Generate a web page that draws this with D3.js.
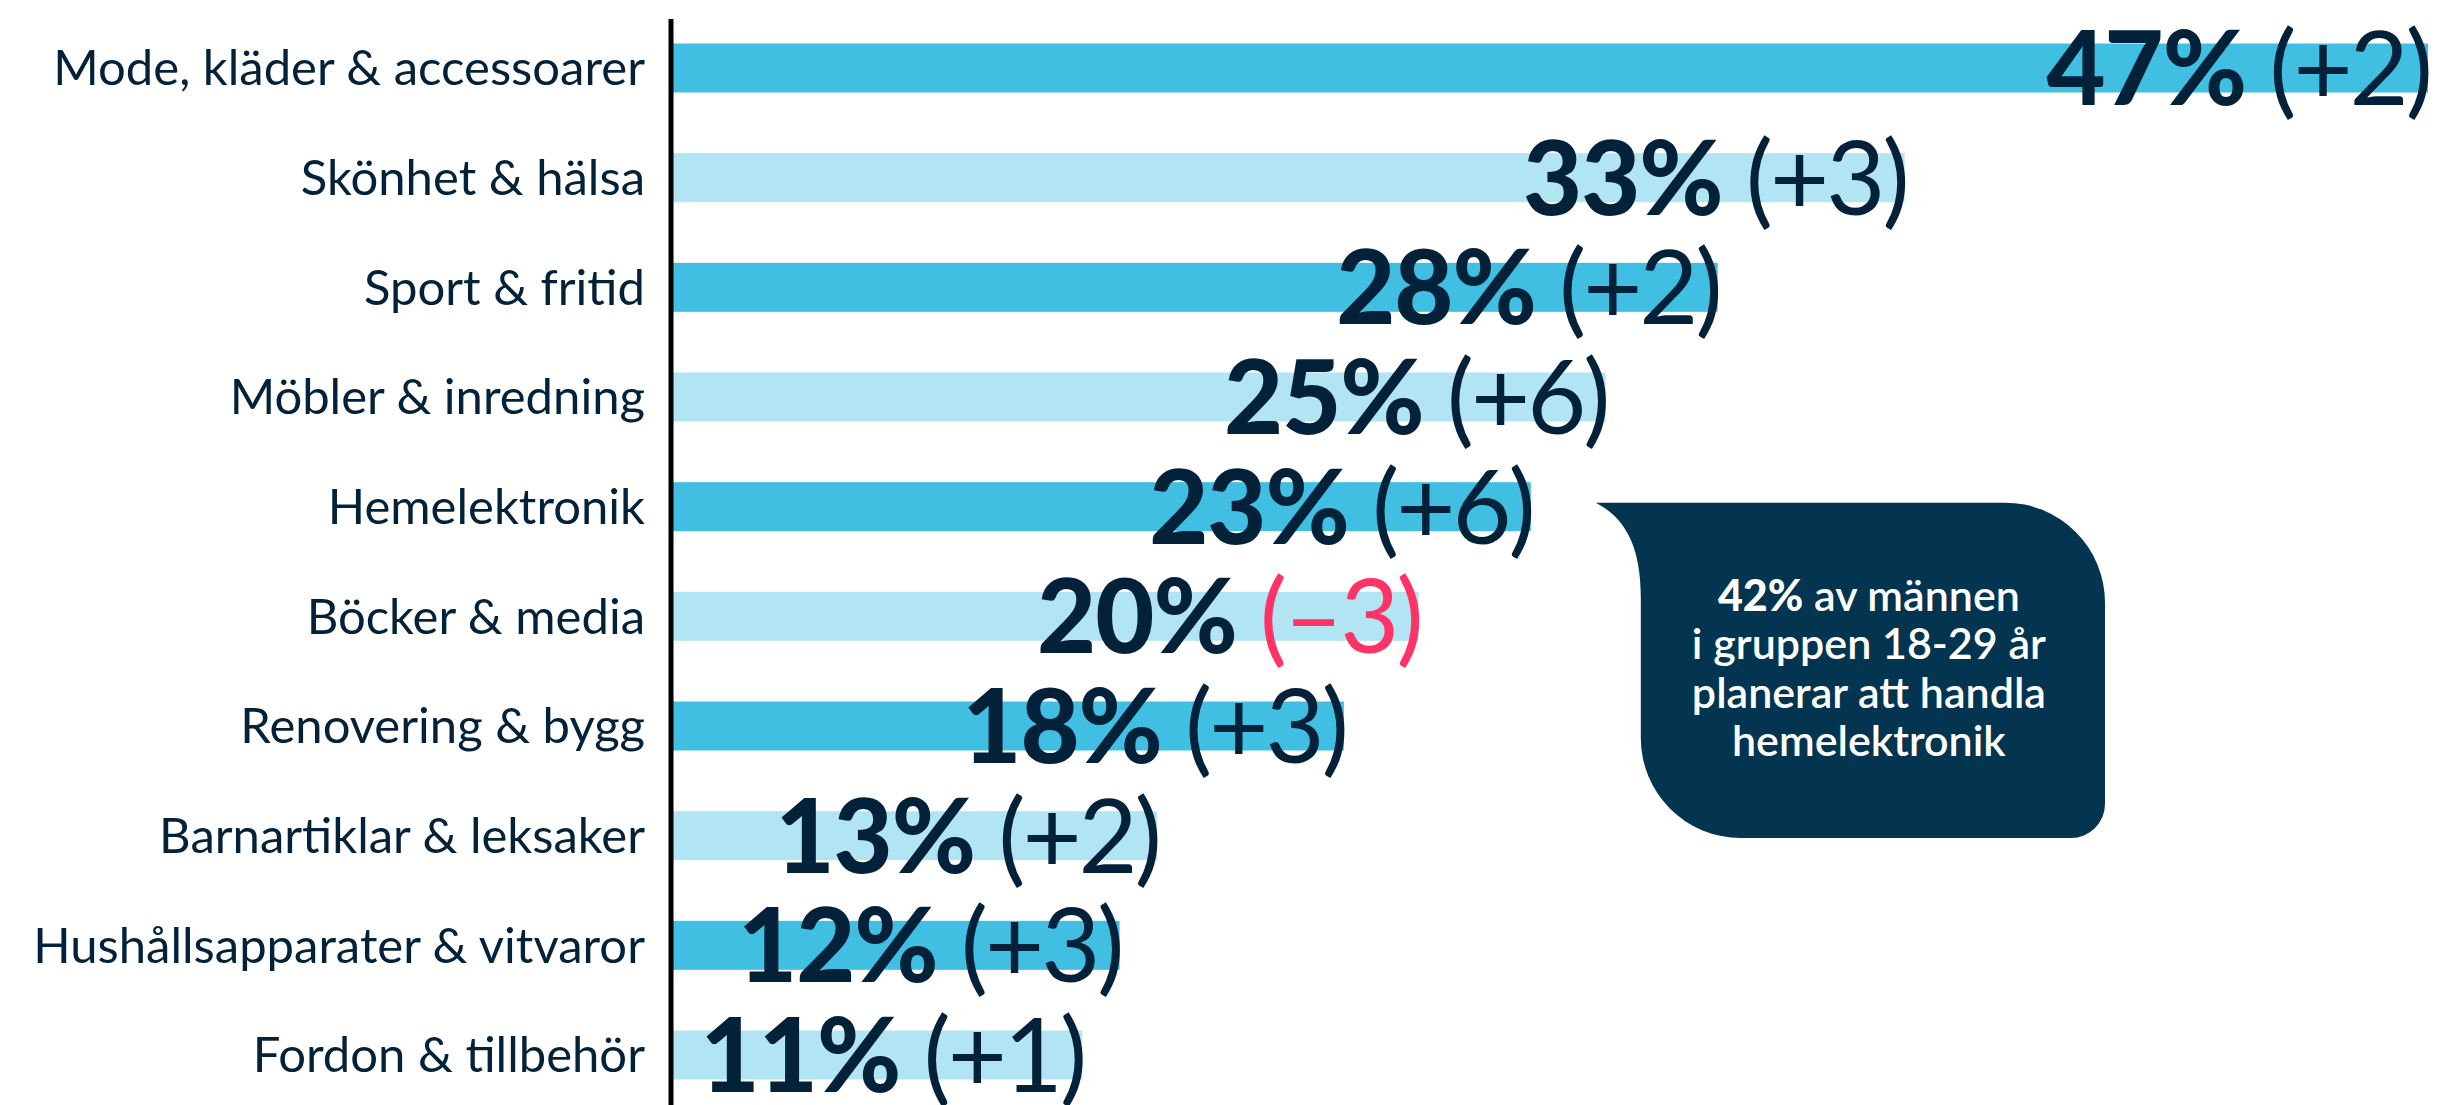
<!DOCTYPE html>
<html lang="sv">
<head>
<meta charset="utf-8">
<script src="https://cdn.jsdelivr.net/npm/d3@7"></script>
<style>
  html, body { margin: 0; padding: 0; background: #ffffff; }
  svg { display: block; }
</style>
</head>
<body>
<div id="chart"></div>
<script>
// Andel som planerar att handla inom respektive kategori, med förändring i procentenheter
const categories = [
  "Mode, kläder & accessoarer",
  "Skönhet & hälsa",
  "Sport & fritid",
  "Möbler & inredning",
  "Hemelektronik",
  "Böcker & media",
  "Renovering & bygg",
  "Barnartiklar & leksaker",
  "Hushållsapparater & vitvaror",
  "Fordon & tillbehör"
];
const shares = [47, 33, 28, 25, 23, 20, 18, 13, 12, 11];
const changes = [2, 3, 2, 6, 6, -3, 3, 2, 3, 1];

const calloutLines = [
  [{ t: "42%", bold: true }, { t: " av männen", bold: false }],
  [{ t: "i gruppen 18-29 år", bold: false }],
  [{ t: "planerar att handla", bold: false }],
  [{ t: "hemelektronik", bold: false }]
];

(function draw() {
  const W = 2438, H = 1105;
  const ink = "#03223a";
  const barDark = "#41bfe3";
  const barLight = "#b2e5f3";
  const negative = "#ff3366";
  const calloutFill = "#033550";

  const svg = d3.select("#chart").append("svg")
    .attr("width", W).attr("height", H)
    .attr("viewBox", `0 0 ${W} ${H}`);

  const axisX = 671;
  const x = d3.scaleLinear().domain([0, 47]).range([axisX, 2428]);
  const y = d3.scalePoint().domain(categories).range([68, 1055]);
  const barH = 49;

  const rows = categories.map((c, i) => ({ c, v: shares[i], d: changes[i], i }));

  // bars
  svg.append("g").selectAll("rect").data(rows).join("rect")
    .attr("x", x(0))
    .attr("y", d => y(d.c) - barH / 2)
    .attr("width", d => x(d.v) - x(0))
    .attr("height", barH)
    .attr("fill", d => d.i % 2 === 0 ? barDark : barLight);

  // category labels (left axis)
  const yAxis = d3.axisLeft(y).tickSize(0).tickPadding(26);
  const ag = svg.append("g").attr("transform", `translate(${axisX},0)`).call(yAxis);
  ag.select(".domain").remove();
  ag.selectAll(".tick text")
    .attr("fill", ink)
    .attr("font-family", "Lato, 'Noto Sans', sans-serif")
    .attr("font-size", 49)
    .attr("dy", "0.34em");

  // vertical axis line
  svg.append("line")
    .attr("x1", axisX).attr("x2", axisX)
    .attr("y1", 19).attr("y2", H)
    .attr("stroke", "#000").attr("stroke-width", 5);

  // value labels, right-aligned to the bar end
  const fmtChange = d => d < 0 ? `(\u2013${Math.abs(d)})` : `(+${d})`;
  const labels = svg.append("g").selectAll("text").data(rows).join("text")
    .attr("x", d => x(d.v) + 2)
    .attr("y", d => y(d.c) + 37)
    .attr("text-anchor", "end")
    .attr("font-family", "Lato, sans-serif")
    .attr("font-size", 102)
    .attr("fill", ink);
  labels.append("tspan")
    .attr("font-weight", 900)
    .attr("letter-spacing", -1)
    .text(d => `${d.v}%`);
  labels.append("tspan")
    .attr("font-weight", 400)
    .attr("letter-spacing", -3)
    .attr("fill", d => d.d < 0 ? negative : ink)
    .text(d => `\u00a0${fmtChange(d.d)}`);

  // speech-bubble callout pointing at Hemelektronik
  const tipX = x(23) + 65, tipY = y("Hemelektronik") - 4;
  const bLeft = tipX + 45, bRight = 2105, bTop = tipY, bBottom = 838;
  const p = d3.path();
  p.moveTo(tipX, bTop);
  p.lineTo(bRight - 100, bTop);
  p.arcTo(bRight, bTop, bRight, bTop + 100, 100);
  p.lineTo(bRight, bBottom - 34);
  p.arcTo(bRight, bBottom, bRight - 34, bBottom, 34);
  p.lineTo(bLeft + 100, bBottom);
  p.arcTo(bLeft, bBottom, bLeft, bBottom - 100, 100);
  p.lineTo(bLeft, bTop + 95);
  p.bezierCurveTo(bLeft, bTop + 40, bLeft - 18, bTop + 14, tipX, bTop);
  p.closePath();
  svg.append("path").attr("d", p.toString()).attr("fill", calloutFill);

  const cx = (bLeft + bRight) / 2 - 4;
  const ct = svg.append("text")
    .attr("text-anchor", "middle")
    .attr("font-family", "Lato, sans-serif")
    .attr("font-size", 43)
    .attr("fill", "#ffffff");
  calloutLines.forEach((line, li) => {
    line.forEach((seg, si) => {
      const ts = ct.append("tspan").text(seg.t)
        .attr("font-weight", seg.bold ? 900 : 600);
      if (si === 0) ts.attr("x", cx).attr("y", bTop + 108 + li * 48.5);
    });
  });
})();
</script>
</body>
</html>
